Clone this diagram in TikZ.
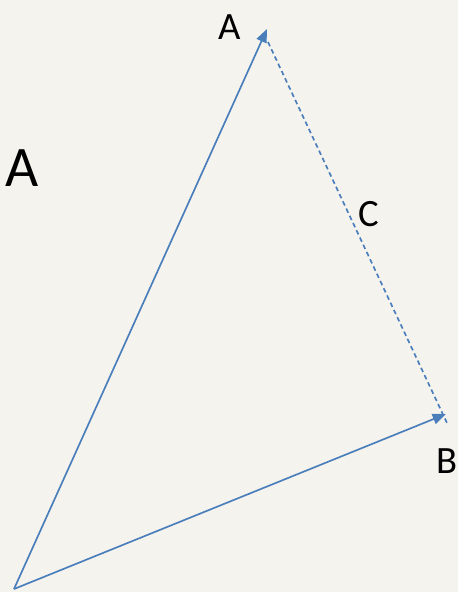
\documentclass[tikz,border=0pt]{standalone}
\usepackage{fontspec}
\setmainfont{Carlito}
\usetikzlibrary{arrows.meta}
\definecolor{vecblue}{HTML}{4A7EBB}
\definecolor{paper}{HTML}{F4F3EE}
\begin{document}
\begin{tikzpicture}[x=0.75pt, y=-0.75pt,
    every node/.style={font=\fontsize{29}{30}\selectfont, inner sep=0pt},
    vec/.style={draw=vecblue, line width=1.25pt, -{Triangle[length=10pt,width=8pt]}},
    diff/.style={draw=vecblue, line width=1.25pt, dash pattern=on 3.5pt off 2.5pt}]
        \fill[paper] (0,0) rectangle (458,592);
        \useasboundingbox (0,0) rectangle (458,592);
        \coordinate (o) at (14,589);
        \coordinate (tipa) at (267,29);
        \coordinate (tipb) at (446,414);
        \coordinate (ca) at (268,42);
        \coordinate (cb) at (447,423);
        \node (la) at (230,27) {A};
        \node (lb) at (447,461) {B};
        \node (lc) at (369,214) {C};
        \node[font=\fontsize{43}{45}\selectfont] (big) at (22,168) {A};
        \draw[vec] (o) -- (tipa);
        \draw[vec] (o) -- (tipb);
        \draw[diff] (ca) -- (cb);
    \end{tikzpicture}
\end{document}
